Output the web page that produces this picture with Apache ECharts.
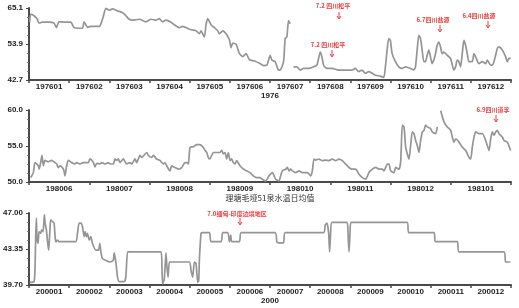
<!DOCTYPE html>
<html><head><meta charset="utf-8">
<script src="https://cdn.jsdelivr.net/npm/echarts@6/dist/echarts.min.js"></script>
<style>html,body{margin:0;padding:0;background:#fff}#c{width:519px;height:308px}</style>
</head><body><div id="c"></div>
<script>
// ---- Panel 1: 1976 ----
const cats1976 = ['197601','197602','197603','197604','197605','197606','197607','197608','197609','197610','197611','197612'];
const yTicks1976 = [42.7, 53.9, 65.1];
const pos1976 = [0.017,0.042,0.125,0.208,0.25,0.333,0.499,0.624,0.682,0.748,0.915,1.04,1.123,1.247,1.331,1.372,1.455,1.538,1.746,1.788,1.846,1.913,1.996,2.079,2.204,2.328,2.412,2.495,2.578,2.744,2.911,3.035,3.16,3.243,3.326,3.41,3.534,3.617,3.742,3.825,3.992,4.158,4.241,4.283,4.366,4.407,4.449,4.532,4.615,4.699,4.74,4.823,4.906,4.99,5.031,5.073,5.156,5.239,5.322,5.405,5.489,5.613,5.738,
  5.838,5.921,6.004,6.046,6.13,6.212,6.254,6.337,6.378,6.42,6.462,6.503,6.545,
  6.586,6.67,6.753,6.836,6.96,7.085,7.168,7.252,7.293,7.335,7.418,7.543,7.709,7.875,8.042,8.125,8.208,8.291,8.374,8.457,8.624,8.748,8.832,8.873,8.915,8.956,8.998,9.04,9.123,9.206,9.289,9.372,9.497,9.58,9.622,9.663,9.705,9.747,9.788,9.83,9.871,9.913,9.954,9.996,10.037,10.079,10.121,10.162,10.204,10.245,10.287,10.329,10.412,10.495,10.578,10.62,10.661,10.703,10.745,10.786,10.828,10.869,10.911,10.953,11.036,11.077,11.119,11.202,11.285,11.368,11.41,11.493,11.534,11.576,11.617,11.659,11.701,11.784,11.867,11.909,11.95,11.992];
const temp1976 = [60.7,63.2,62.7,61.6,60.4,60.7,60.7,60.4,59.0,60.8,60.7,60.7,59.0,58.8,58.8,60.8,59.1,59.4,59.4,60.1,62.3,65.0,64.4,64.8,64.2,63.7,62.7,61.6,61.3,61.6,60.8,61.6,61.3,61.8,60.8,61.3,60.7,59.9,59.0,59.4,58.5,58.0,57.1,58.0,56.1,59.9,61.8,59.9,59.0,58.0,57.1,58.0,57.1,55.2,52.8,54.2,53.8,50.9,50.0,50.9,49.0,48.6,47.9,
  47.2,47.3,50.4,48.9,48.4,45.8,45.8,48.4,55.6,56.1,61.2,60.2,null,
  46.8,46.8,45.8,46.3,46.3,46.8,47.3,51.4,49.9,47.3,46.3,46.3,45.8,45.8,45.8,46.3,45.3,45.8,44.8,45.3,44.2,43.9,43.5,46.8,52.0,55.6,55.0,50.9,48.4,46.8,46.3,46.8,46.3,45.8,46.8,52.0,56.6,55.6,52.0,48.4,48.4,50.4,52.0,49.9,47.8,48.9,50.9,53.5,54.5,53.0,50.9,51.4,50.4,49.4,45.8,46.8,48.9,48.4,46.8,50.9,55.0,53.5,50.9,48.4,48.4,50.9,49.9,47.8,48.4,47.8,48.9,47.3,47.3,48.4,50.4,52.5,53.0,52.0,49.9,48.4,49.4,49.4];

// ---- Panel 2: 1980-1981 ----
const cats1980 = ['198006','198007','198008','198009','198010','198011','198012','198101'];
const yTicks1980 = [50.0, 55.0, 60.0];
const pos1980 = [0.028,0.072,0.10,0.155,0.17,0.20,0.216,0.238,0.266,0.32,0.376,0.43,0.46,0.487,0.515,0.57,0.586,0.598,0.625,0.653,0.708,0.763,0.79,0.846,0.90,0.985,1.012,1.068,1.095,1.123,1.178,1.206,1.261,1.317,1.344,1.40,1.427,1.455,1.483,1.51,1.566,1.621,1.676,1.704,1.759,1.787,1.842,1.87,1.953,1.98,2.036,2.064,2.119,2.174,2.23,2.257,2.285,2.34,2.368,2.423,2.479,2.534,2.589,2.617,2.645,2.672,2.728,2.783,2.838,2.894,2.92,2.95,2.977,3.004,3.032,3.06,3.17,3.198,3.225,3.253,3.28,3.308,3.336,3.363,3.391,3.42,3.447,3.502,3.557,3.613,3.668,3.723,3.779,3.834,
  3.873,3.928,3.983,4.039,4.094,4.149,4.177,4.205,4.26,4.288,4.315,4.343,4.371,4.426,4.481,4.537,4.62,4.675,4.703,4.73,4.758,4.813,4.869,4.924,4.979,5.035,5.09,5.145,5.2,5.256,5.311,5.367,5.422,5.477,5.533,5.588,5.643,5.699,5.754,5.809,5.865,5.892,5.92,5.947,5.975,6.003,6.058,6.086,6.141,6.17,6.196,6.224,6.252,6.279,6.307,6.334,6.362,6.39,6.417,6.445,6.473,6.5,6.528,6.556,6.583,6.611,6.666,6.694,6.749,6.777,6.805,
  6.833,6.888,6.943,6.999,7.026,7.054,7.082,7.137,7.192,7.248,7.303,7.331,7.358,7.386,7.414,7.469,7.524,7.58,7.635,7.663,7.69,7.718,7.746,7.773,7.801,7.856,7.884,7.939,7.994];
const temp1980 = [50.6,51.3,52.7,52.25,51.8,53.0,53.7,52.25,53.0,52.8,53.0,52.7,52.5,52.0,52.25,51.8,51.3,50.85,52.25,53.0,52.7,52.5,52.7,52.5,52.7,52.7,53.2,52.7,52.1,52.6,52.5,52.7,52.5,52.7,52.5,52.5,53.2,53.0,53.2,52.7,53.2,52.5,52.7,52.5,53.2,52.7,53.7,53.4,54.1,53.7,53.4,53.7,53.2,53.0,52.5,52.7,52.25,51.55,52.25,52.0,51.8,52.0,52.7,52.7,52.5,54.8,54.9,55.2,55.2,54.8,54.4,54.1,53.4,53.2,53.7,54.1,54.1,54.4,53.9,54.1,53.2,54.1,53.0,53.2,52.7,52.5,52.96,52.25,51.8,51.55,51.3,50.85,50.6,50.6,
  50.38,50.14,50.85,51.31,50.38,50.14,50.85,51.55,51.78,52.02,51.55,51.78,51.55,51.31,51.55,51.31,51.31,50.85,51.55,53.19,53.05,53.19,52.96,53.05,52.96,53.19,52.96,53.19,52.96,52.49,52.02,51.78,51.78,51.08,50.61,50.38,51.31,51.78,52.02,51.78,51.78,51.55,52.02,52.49,52.49,51.55,51.31,52.02,51.78,52.96,57.89,57.65,54.84,53.90,53.19,55.07,56.95,56.71,55.77,55.07,54.13,55.77,56.95,57.18,57.89,57.65,57.42,56.95,56.71,57.65,null,
  59.9,58.36,57.65,57.18,56.24,55.54,56.01,55.54,54.84,54.37,53.43,53.19,54.84,56.24,56.95,56.71,56.71,55.77,54.37,56.01,56.95,56.48,56.95,57.18,56.71,56.24,55.77,55.54,54.37];

// ---- Panel 3: 2000 ----
const cats2000 = ['200001','200002','200003','200004','200005','200006','200007','200008','200009','200010','200011','200012'];
const yTicks2000 = [39.70, 43.35, 47.00];
const pos2000 = [0.017,0.125,0.15,0.166,0.183,0.2,0.225,0.25,0.29,0.316,0.35,0.383,0.4,0.432,0.466,0.49,0.516,0.54,0.582,0.624,0.649,0.665,0.707,0.748,1.164,1.206,1.247,1.289,1.33,1.372,1.397,1.43,1.455,1.497,1.538,1.58,1.663,1.73,1.763,1.788,1.83,1.913,1.996,2.096,2.12,2.162,2.204,2.245,2.37,2.41,2.453,2.495,3.285,3.31,3.326,3.368,3.41,3.434,3.46,3.493,3.534,3.992,4.033,4.075,4.116,4.158,4.2,4.225,4.241,4.283,4.324,4.49,4.532,4.782,4.823,4.948,4.99,5.023,5.047,5.239,5.281,6.129,6.17,6.212,6.337,6.378,7.335,7.376,7.418,7.46,7.484,7.509,7.542,7.917,7.942,7.967,7.992,8.017,9.414,9.456,10.08,10.12,10.661,10.703,11.825,11.867,11.98];
const temp2000 = [39.97,40.04,41.52,44.60,46.49,44.26,43.92,45.11,44.94,45.29,45.11,46.83,45.97,45.29,43.92,43.23,44.94,46.31,46.14,45.97,44.60,44.09,44.26,44.09,44.09,44.94,45.97,45.97,45.63,44.60,45.11,44.60,44.94,44.26,44.60,43.92,43.23,43.23,43.92,43.06,42.37,42.20,42.03,42.20,42.96,42.03,40.49,40.04,40.04,40.49,43.06,43.06,43.06,41.52,39.80,40.32,42.96,41.52,40.49,42.03,42.03,42.03,41.17,40.49,42.03,41.86,39.97,40.15,42.20,44.94,45.01,45.01,44.09,44.09,45.01,45.01,44.09,44.77,44.09,44.09,45.01,45.01,44.09,43.98,43.98,45.01,45.01,45.80,45.97,44.94,43.06,44.94,46.04,46.04,44.94,43.06,44.94,46.04,46.04,45.01,45.01,44.09,44.09,43.06,43.06,42.03,42.03];

function pairs(xs, ys){ return xs.map((x,i)=> ys[i]==null ? [x,null] : [x, ys[i]]); }

const chart = echarts.init(document.getElementById('c'), null, {renderer:'canvas'});
const labelFont = {fontFamily:'Liberation Sans, Arial, sans-serif', fontSize:8, fontWeight:'bold', color:'#222'};
const grids = [
  {left:29, right:8, top:8, height:72},
  {left:29, right:8, top:110, height:72},
  {left:29, right:8, top:213, height:72}
];
const cats = [cats1976, cats1980, cats2000];
const yt = [yTicks1976, yTicks1980, yTicks2000];
const names = ['1976','理塘毛垭51泉水温日均值','2000'];
const decimals = [1,1,2];
const xAxes = [], yAxes = [], series = [];
const dataSets = [pairs(pos1976,temp1976), pairs(pos1980,temp1980), pairs(pos2000,temp2000)];
for (let i=0;i<3;i++){
  xAxes.push({type:'category', gridIndex:i, data:cats[i], boundaryGap:true, position:'bottom',
    axisLine:{lineStyle:{color:'#4a4a4a', width:2}},
    axisTick:{show:true, length:3, lineStyle:{color:'#4a4a4a', width:1.5}},
    axisLabel:Object.assign({margin:3}, labelFont),
    name:names[i], nameLocation:'middle', nameGap:10,
    nameTextStyle: i===1 ? {fontFamily:'Noto Sans CJK SC', fontSize:8, color:'#333'} : Object.assign({}, labelFont),
    splitLine:{show:false}});
  xAxes.push({type:'value', gridIndex:i, min:0, max:cats[i].length, show:false});
  const t = yt[i];
  yAxes.push({type:'value', gridIndex:i, min:t[0], max:t[2], interval:(t[2]-t[0])/2,
    axisLine:{show:true, lineStyle:{color:'#4a4a4a', width:2}},
    axisTick:{show:true, length:3, lineStyle:{color:'#4a4a4a'}},
    minorTick:{show:true, splitNumber:4, length:2, lineStyle:{color:'#777'}},
    axisLabel:Object.assign({margin:6, formatter:v=>v.toFixed(decimals[i])}, labelFont),
    splitLine:{show:false}});
  series.push({type:'line', xAxisIndex:i*2+1, yAxisIndex:i, data:dataSets[i], showSymbol:false,
    connectNulls:false, smooth:0.2, lineStyle:{color:'#959595', width:1.7}, silent:true});
}
const red = '#f03c3c';
function note(txt, x, y, ax, ay){
  return [
    {type:'text', x:x, y:y, style:{text:txt, fill:red, font:'bold 6px "Noto Sans CJK SC"', align:'center', verticalAlign:'middle'}},
    {type:'line', shape:{x1:ax, y1:ay, x2:ax, y2:ay+6}, style:{stroke:red, lineWidth:1}},
    {type:'polyline', shape:{points:[[ax-2,ay+4],[ax,ay+7],[ax+2,ay+4]]}, style:{stroke:red, lineWidth:1, fill:null}}
  ];
}
const graphic = [].concat(
  note('7.2 四川松平', 333, 6, 339, 12),
  note('7.2 四川松平', 328, 45, 332, 50),
  note('6.7四川盐源', 433, 20, 440, 25),
  note('6.4四川盐源', 479, 16, 488, 21),
  note('6.9四川道孚', 493, 110, 496, 115),
  note('7.0缅甸-印度边境地区', 237, 214, 240, 218)
);
chart.setOption({animation:false, grid:grids, xAxis:xAxes, yAxis:yAxes, series:series, graphic:graphic});
</script></body></html>
